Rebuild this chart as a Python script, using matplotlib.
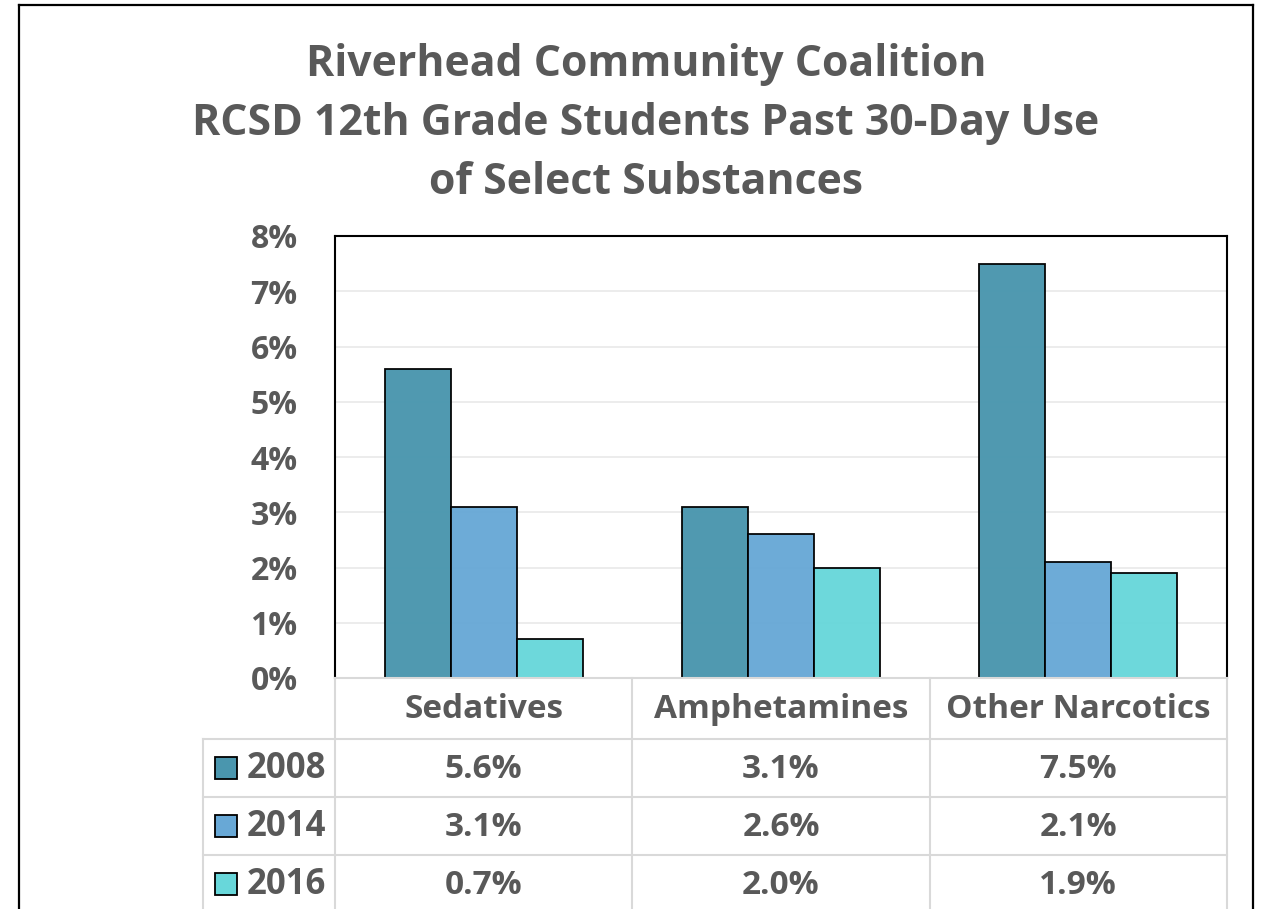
import matplotlib.pyplot as plt
from matplotlib.lines import Line2D
from matplotlib.patches import Rectangle
from matplotlib.transforms import blended_transform_factory
import numpy as np

categories = ['Sedatives', 'Amphetamines', 'Other Narcotics']
years = ['2008', '2014', '2016']
v2008 = [5.6, 3.1, 7.5]
v2014 = [3.1, 2.6, 2.1]
v2016 = [0.7, 2.0, 1.9]
series = [v2008, v2014, v2016]
colors = ['#4a96ae', '#68a8d6', '#68d7da']
yticks = [0, 1, 2, 3, 4, 5, 6, 7, 8]

TXT = '#595959'
GRID = '#d9d9d9'
FONT = 'Open Sans'
W, H = 1261, 909

def fx(x):
    return x / W

def fy(y):
    return 1 - y / H

fig = plt.figure(figsize=(W / 100, H / 100), dpi=100)
ax = fig.add_axes([fx(335), fy(678), fx(1227) - fx(335), fy(236) - fy(678)])

# bars
bw = 0.222
x = np.arange(len(categories))
for i, vals in enumerate(series):
    ax.bar(x + (i - 1) * bw, vals, width=bw, color=colors[i], edgecolor='black',
           linewidth=1.3, zorder=2, alpha=0.97)

ax.set_xlim(-0.5, len(categories) - 0.5)
ax.set_ylim(0, 8)
ax.set_yticks(yticks)
ax.set_yticklabels([f'{t}%' for t in yticks], fontsize=23, fontweight='bold',
                   color=TXT, family=FONT)
ax.tick_params(axis='y', length=0, pad=27)
ax.set_xticks([])
ax.grid(axis='y', color='#ebebeb', linewidth=1.3, zorder=0)
ax.set_axisbelow(True)
for s in ['left', 'top', 'right']:
    ax.spines[s].set_color('black')
    ax.spines[s].set_linewidth(1.5)
ax.spines['bottom'].set_color(GRID)
ax.spines['bottom'].set_linewidth(1.5)

# title
title_lines = ['Riverhead Community Coalition',
               'RCSD 12th Grade Students Past 30-Day Use',
               'of Select Substances']
for k, line in enumerate(title_lines):
    fig.text(fx(646), fy(65 + k * 58.5), line, ha='center', va='center',
             fontsize=30.8, fontweight='bold', color=TXT, family=FONT)

# data table
tr = blended_transform_factory(ax.transData, fig.transFigure)
row_y = [739, 797, 855]
row_h = 58
bottom = 915

def fline(x0, y0, x1, y1, transform=fig.transFigure, color=GRID, lw=1.5):
    fig.add_artist(Line2D([x0, x1], [y0, y1], transform=transform,
                          color=color, linewidth=lw, clip_on=False))

# vertical lines at category boundaries
for b in np.arange(len(categories) + 1) - 0.5:
    fline(b, fy(678), b, fy(bottom), transform=tr)
# left border for legend column
fline(fx(203), fy(row_y[0]), fx(203), fy(bottom))
# horizontal lines
for ry in row_y:
    fline(fx(203), fy(ry), fx(1227), fy(ry))

# header
for j, cat in enumerate(categories):
    fig.text(x[j], fy(710), cat, transform=tr, ha='center', va='center',
             fontsize=24, fontweight='bold', color=TXT, family=FONT)

# rows
for i, vals in enumerate(series):
    cy = row_y[i] + row_h / 2
    fig.add_artist(Rectangle((fx(215), fy(cy + 11)), fx(22), 22 / H,
                             transform=fig.transFigure, facecolor=colors[i],
                             edgecolor='black', linewidth=1.3))
    fig.text(fx(247), fy(cy + 1), years[i], ha='left', va='center',
             fontsize=25, fontweight='bold', color=TXT, family=FONT)
    for j, v in enumerate(vals):
        fig.text(x[j], fy(cy + 1), f'{v:.1f}%', transform=tr, ha='center', va='center',
                 fontsize=24, fontweight='bold', color=TXT, family=FONT)

# outer chart border
fline(fx(19), fy(5), fx(1253), fy(5), color='black', lw=1.6)
fline(fx(19), fy(5), fx(19), fy(915), color='black', lw=1.6)
fline(fx(1253), fy(5), fx(1253), fy(915), color='black', lw=1.6)

fig.savefig('out.png', dpi=100)
